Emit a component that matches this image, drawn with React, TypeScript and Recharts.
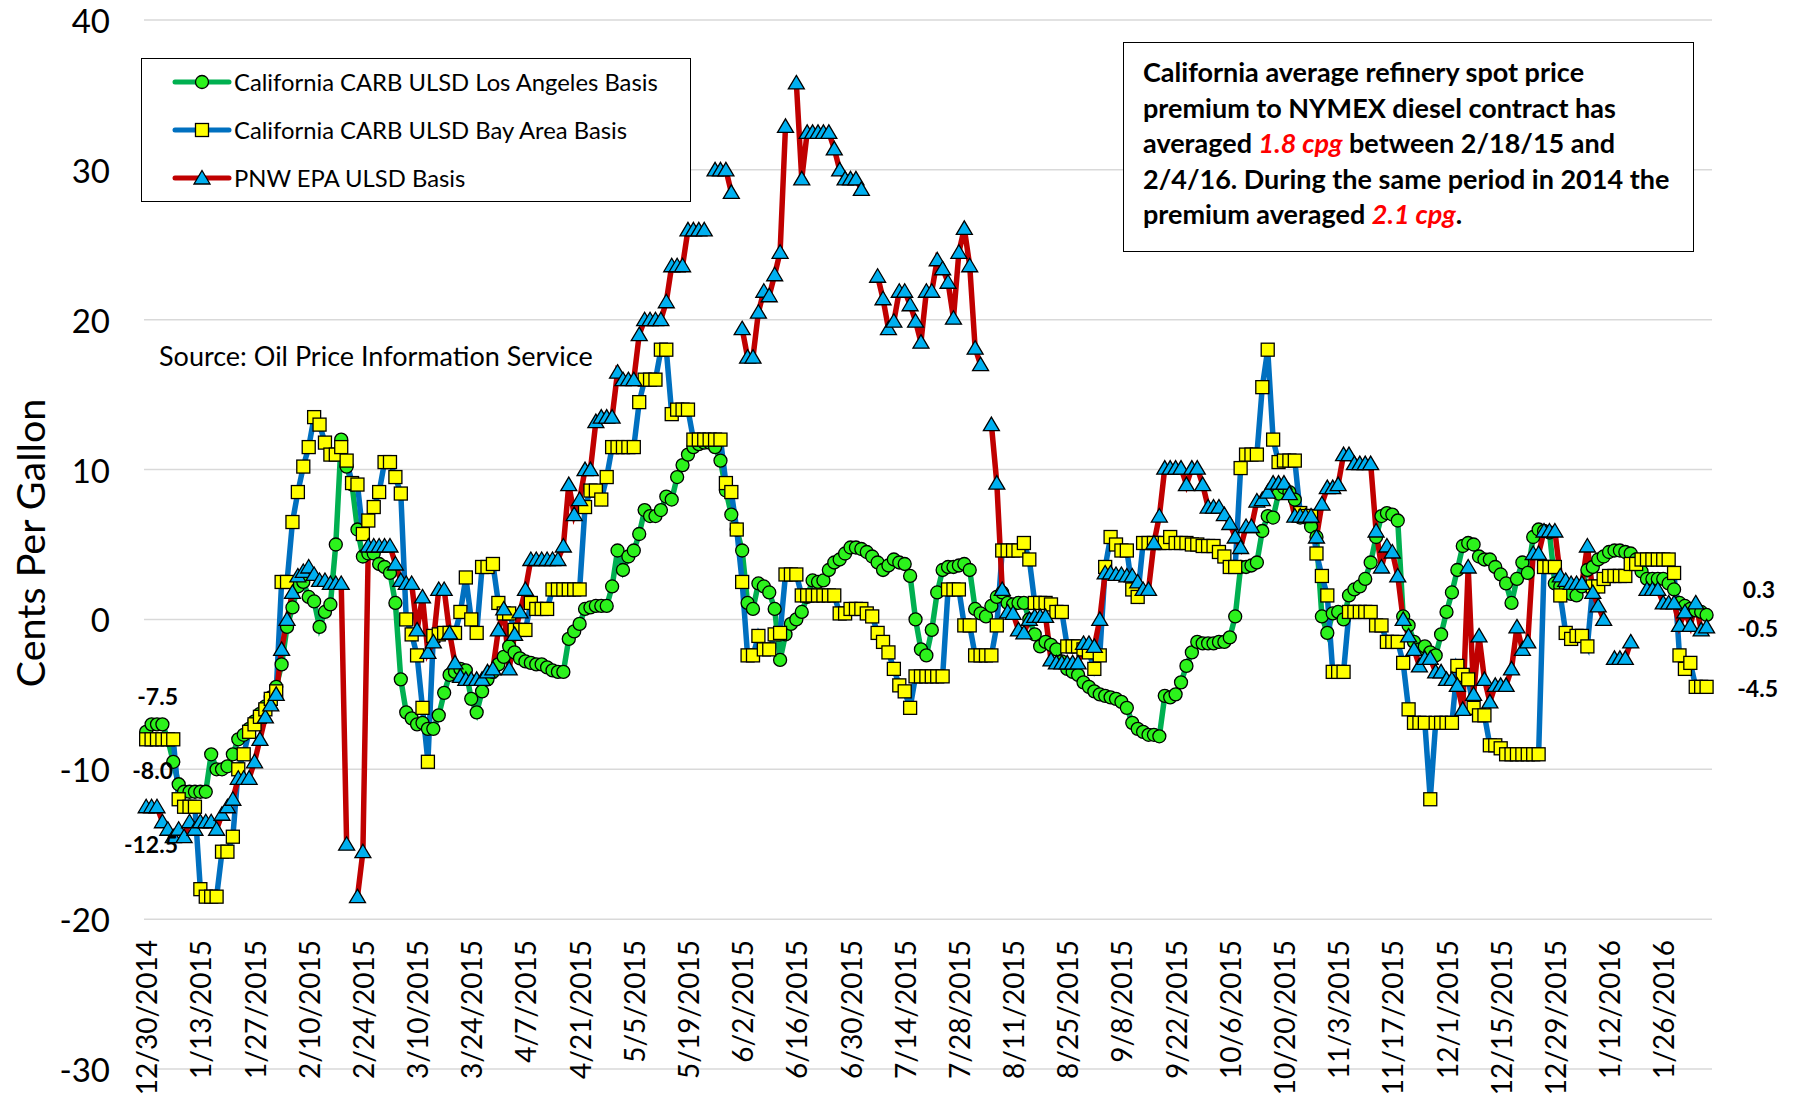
import React from 'react';
import { LineChart, Line, XAxis, YAxis, CartesianGrid } from 'recharts';

const TICK_LABELS = [
  '12/30/2014', '1/13/2015', '1/27/2015', '2/10/2015', '2/24/2015', '3/10/2015',
  '3/24/2015', '4/7/2015', '4/21/2015', '5/5/2015', '5/19/2015', '6/2/2015',
  '6/16/2015', '6/30/2015', '7/14/2015', '7/28/2015', '8/11/2015', '8/25/2015',
  '9/8/2015', '9/22/2015', '10/6/2015', '10/20/2015', '11/3/2015', '11/17/2015',
  '12/1/2015', '12/15/2015', '12/29/2015', '1/12/2016', '1/26/2016',
];

// one value per trading day, cents per gallon
const LA_BASIS: (number | null)[] = [
  -7.5, -7, -7, -7, -8, -9.5, -11, -11.5, -11.5, -11.5,
  -11.5, -11.5, -9, -10, -10, -9.8, -9, -8, -7.7, -7.3,
  -6.8, -6.3, -5.8, -5.2, -4.5, -3, -0.5, 0.8, 2.2, 2.5,
  1.5, 1.2, -0.5, 0.5, 1, 5, 12, 10.2, 9, 6,
  4.2, 4.4, 4.4, 3.7, 3.5, 3.1, 1.1, -4, -6.2, -6.6,
  -7, -6.9, -7.3, -7.3, -6.4, -4.9, -3.7, -3.5, -3.3, -3.4,
  -5.3, -6.2, -4.8, -4, -3.5, -3, -2.5, -1.8, -2.2, -2.6,
  -2.8, -2.9, -3, -3, -3.2, -3.4, -3.5, -3.5, -1.3, -0.8,
  -0.3, 0.7, 0.8, 0.9, 0.9, 0.9, 2.2, 4.6, 3.3, 4.2,
  4.6, 5.7, 7.3, 6.9, 6.9, 7.3, 8.2, 8, 9.5, 10.3,
  11, 11.5, 11.7, 11.8, 11.8, 11.5, 10.6, 8.6, 7, 6,
  4.6, 1.1, 0.7, 2.4, 2.2, 1.8, 0.7, -2.7, -1, -0.3,
  0, 0.5, 1.5, 2.6, 2.5, 2.6, 3.3, 3.8, 4, 4.4,
  4.8, 4.8, 4.7, 4.5, 4.2, 3.8, 3.3, 3.6, 4, 3.8,
  3.7, 2.9, 0, -2, -2.4, -0.7, 1.8, 3.3, 3.5, 3.5,
  3.6, 3.7, 3.3, 0.7, 0.4, 0.2, 0.9, 1.5, 1.8, 1.1,
  1, 1.1, 1.1, 0, -1, -1.8, -1.5, -1.7, -2, -2.8,
  -3.3, -3.5, -3.7, -4.2, -4.5, -4.8, -5, -5.1, -5.2, -5.3,
  -5.5, -5.9, -6.9, -7.3, -7.5, -7.7, -7.7, -7.8, -5.1, -5.2,
  -5, -4.2, -3.1, -2.2, -1.5, -1.6, -1.6, -1.6, -1.5, -1.5,
  -1.2, 0.2, 3.5, 3.5, 3.6, 3.8, 5.9, 6.9, 6.8, 8.4,
  8.8, 8.5, 8, 6.8, 6.8, 6.2, 5.5, 0.2, -0.9, 0.4,
  0.5, 0, 1.6, 2, 2.2, 2.7, 3.8, 5.5, 6.9, 7.1,
  7, 6.6, 0.2, -0.4, -1.5, -2, -1.8, -2.2, -2.4, -1,
  0.5, 1.8, 3.3, 4.9, 5.1, 5, 4.2, 4, 4, 3.5,
  3, 2.4, 1.1, 2.7, 3.8, 3.1, 5.5, 6, 5.9, 5.8,
  2.4, 2.2, 2, 1.7, 1.6, 2.2, 3.3, 3.5, 4, 4.2,
  4.5, 4.6, 4.6, 4.5, 4.4, 4, 3.2, 2.7, 2.7, 2.7,
  2.7, 2.4, 2, 1.1, 0.9, 0.7, 0.6, 0.5, 0.3,
];

const BAY_BASIS: (number | null)[] = [
  -8, -8, -8, -8, -8, -8, -12, -12.5, -12.5, -12.5,
  -18, -18.5, -18.5, -18.5, -15.5, -15.5, -14.5, -10, -9, -7.5,
  -7, -6.5, -6, -5.3, -4.8, 2.5, 2.5, 6.5, 8.5, 10.2,
  11.5, 13.5, 13, 11.8, 11, 11, 11.5, 10.6, 9.1, 9,
  5.7, 6.6, 7.5, 8.5, 10.5, 10.5, 9.5, 8.4, 0, -1,
  -2.4, -5.9, -9.5, -1.1, -1, -0.9, -0.9, -0.9, 0.5, 2.8,
  0, -0.9, 3.5, 3.5, 3.7, 1.1, 0.4, 0.4, -0.7, -0.7,
  -0.7, 1.1, 0.7, 0.7, 0.7, 2, 2, 2, 2, 2,
  2, 7.5, 8.6, 8.6, 8, 9.5, 11.5, 11.5, 11.5, 11.5,
  11.5, 14.5, 16, 16, 16, 18, 18, 13.7, 14, 14,
  14, 12, 12, 12, 12, 12, 12, 9.1, 8.5, 6,
  2.5, -2.4, -2.4, -1.1, -2, -2, -1, -0.9, 3, 3,
  3, 1.6, 1.6, 1.6, 1.6, 1.6, 1.6, 1.6, 0.4, 0.4,
  0.7, 0.7, 0.7, 0.4, 0.2, -0.9, -1.5, -2.2, -3.3, -4.4,
  -4.8, -5.9, -3.8, -3.8, -3.8, -3.8, -3.8, -3.8, 2, 2,
  2, -0.4, -0.4, -2.4, -2.4, -2.4, -2.4, -0.4, 4.6, 4.6,
  4.6, 4.6, 5.1, 4, 1.1, 1.1, 1.1, 1, 0.5, 0.5,
  -1.8, -1.8, -1.8, -2, -2.2, -3.3, -2.4, 3.5, 5.5, 5,
  4.6, 4.6, 2, 1.5, 5.1, 5.1, 5.1, 5.1, 5.1, 5.5,
  5.1, 5.1, 5.1, 5, 5, 4.9, 4.9, 4.9, 4.5, 4.2,
  3.5, 3.5, 10.1, 11, 11, 11, 15.5, 18, 12, 10.5,
  10.6, 10.6, 10.6, 7.1, 6.9, 6.9, 4.4, 2.9, 1.6, -3.5,
  -3.5, -3.5, 0.5, 0.5, 0.5, 0.5, 0.5, -0.4, -0.4, -1.5,
  -1.5, -1.5, -2.9, -6, -6.9, -6.9, -6.9, -12, -6.9, -6.9,
  -6.9, -6.9, -3.1, -3.7, -4, -5.9, -6.4, -6.4, -8.4, -8.4,
  -8.6, -9, -9, -9, -9, -9, -9, -9, 3.5, 3.5,
  3.5, 1.6, -0.9, -1.3, -1.1, -1.1, -1.8, 2.2, 2.2, 2.7,
  2.9, 2.9, 2.9, 2.9, 3.7, 3.7, 4, 4, 4, 4,
  4, 4, 3.1, -2.4, -3.3, -2.9, -4.5, -4.5, -4.5,
];

const PNW_BASIS: (number | null)[] = [
  -12.5, -12.5, -12.5, -13.5, -14, -14.5, -14, -14.5, -13.5, -14,
  -13.5, -13.5, -13.5, -14, -13, -12.5, -12, -10.6, -10.6, -10.6,
  -9.5, -8, -6.5, -5.7, -5, -2, 0, 1.8, 2.9, 3.2,
  3.5, 3, 2.6, 2.6, 2.4, 2.4, 2.4, -15, null, -18.5,
  -15.5, 4.9, 4.9, 4.9, 4.9, 4.9, 3.7, 2.6, 2.4, 2.4,
  -0.7, 1.5, -2.2, -1.5, 2, 2, -0.9, -2.9, -3.8, -4,
  -4, -4, -4, -3.5, -3.3, -0.7, 0.7, -3.3, -1, 0.5,
  2, 4, 4, 4, 4, 4, 4, 4.9, 9, 7,
  8, 10, 10, 13.2, 13.5, 13.5, 13.5, 16.5, 16, 16,
  16, 19, 20, 20, 20, 20, 21.2, 23.6, 23.6, 23.6,
  26, 26, 26, 26, null, 30, 30, 30, 28.5, null,
  19.4, 17.5, 17.5, 20.5, 21.9, 21.6, 23, 24.5, 32.9, null,
  35.8, 29.4, 32.5, 32.5, 32.5, 32.5, 32.5, 31.4, 30, 29.4,
  29.4, 29.4, 28.7, null, null, 22.9, 21.4, 19.4, 19.9, 21.9,
  21.9, 21, 19.9, 18.5, 21.9, 21.9, 24, 23.4, 22.5, 20.1,
  24.5, 26.1, 23.6, 18.1, 17, null, 13, 9.1, 2, 0.5,
  0.4, -0.7, -0.9, 0, 0.2, 0.2, 0.2, -2.7, -2.9, -2.9,
  -2.9, -2.9, -2.9, -1.6, -1.6, -1.8, 0, 3.1, 3.1, 3,
  3, 2.9, 2.9, 2.5, 2, 2, 5.1, 6.9, 10.1, 10.1,
  10.1, 10.1, 9, 10.1, 10.1, 9, 7.5, 7.5, 7.5, 7,
  6.4, 5.5, 4.8, 6.2, 6.2, 7.9, 8, 8.5, 9.1, 9.1,
  9.1, 8.4, 6.9, 6.9, 6.9, 6.9, 5.5, 7.7, 8.8, 8.8,
  9, 11, 11, 10.4, 10.4, 10.4, 10.4, 5.9, 3.5, 4.9,
  4.5, 2.9, 0, -1.1, -2, -3.1, -2.6, -2.6, -3.5, -3.5,
  -4, -4, -4.4, -6, 3.5, -5, -1.1, -4, -5.5, -4.4,
  -4.4, -4.4, -3.3, -0.5, -2, -1.5, 4.4, 4.4, 5.9, 5.9,
  5.9, 2.9, 2.6, 2.4, 2.4, 2.4, 4.9, 1.8, 0.9, 0,
  null, -2.6, -2.6, -2.6, -1.5, null, null, 2, 2, 2,
  1.1, 1.1, 1.1, -0.4, 0.5, -0.4, 1.1, -0.7, -0.5,
];

const Y_TICKS = [-30, -20, -10, 0, 10, 20, 30, 40];

const data = LA_BASIS.map((la, i) => ({
  day: i,
  la,
  bay: BAY_BASIS[i],
  pnw: PNW_BASIS[i],
}));

const FONT = 'Lato, "Open Sans", sans-serif';
const GREEN_LINE = '#00b050';
const GREEN_DOT = '#2cf21c';
const BLUE_LINE = '#0070c0';
const YELLOW = '#ffff00';
const RED_LINE = '#c00000';
const SKY = '#00b0f0';

function CircleDot(p: any) {
  if (p.value == null || p.cy == null) return <g key={`c${p.index}`} />;
  return (
    <circle key={`c${p.index}`} cx={p.cx} cy={p.cy} r={6.5}
      fill={GREEN_DOT} stroke="#000" strokeWidth={1.3} />
  );
}

function SquareDot(p: any) {
  if (p.value == null || p.cy == null) return <g key={`s${p.index}`} />;
  return (
    <rect key={`s${p.index}`} x={p.cx - 6.5} y={p.cy - 6.5} width={13} height={13}
      fill={YELLOW} stroke="#000" strokeWidth={1.3} />
  );
}

function TriangleDot(p: any) {
  if (p.value == null || p.cy == null) return <g key={`t${p.index}`} />;
  const { cx, cy } = p;
  return (
    <polygon key={`t${p.index}`}
      points={`${cx},${cy - 7.5} ${cx + 8},${cy + 6} ${cx - 8},${cy + 6}`}
      fill={SKY} stroke="#000" strokeWidth={1.3} />
  );
}

function DateTick(p: any) {
  const label = TICK_LABELS[Math.round(p.payload.value / 10)];
  const top = 940;
  return (
    <text x={p.x} y={top} transform={`rotate(-90 ${p.x} ${top})`}
      textAnchor="end" dominantBaseline="central"
      fontFamily={FONT} fontSize={28} fill="#000">
      {label}
    </text>
  );
}

function ValueTick(p: any) {
  return (
    <text x={110} y={p.y} textAnchor="end" dominantBaseline="central"
      fontFamily={FONT} fontSize={33} fill="#000">
      {p.payload.value}
    </text>
  );
}

function LegendIcon({ line, kind }: { line: string; kind: string }) {
  return (
    <svg width={60} height={20} style={{ display: 'block' }}>
      <line x1={3} y1={10} x2={57} y2={10} stroke={line} strokeWidth={5} strokeLinecap="round" />
      {kind === 'circle' && <circle cx={30} cy={10} r={6.5} fill={GREEN_DOT} stroke="#000" strokeWidth={1.3} />}
      {kind === 'square' && <rect x={23.5} y={3.5} width={13} height={13} fill={YELLOW} stroke="#000" strokeWidth={1.3} />}
      {kind === 'triangle' && <polygon points="30,2.5 38,16 22,16" fill={SKY} stroke="#000" strokeWidth={1.3} />}
    </svg>
  );
}

const LEGEND_ROWS = [
  { name: 'California CARB ULSD Los Angeles Basis', line: GREEN_LINE, kind: 'circle' },
  { name: 'California CARB ULSD Bay Area Basis', line: BLUE_LINE, kind: 'square' },
  { name: 'PNW EPA ULSD Basis', line: RED_LINE, kind: 'triangle' },
];

const red = { color: '#ff0000', fontStyle: 'italic' as const };

export default function App() {
  return (
    <div style={{ position: 'absolute', left: 0, top: 0, width: 1794, height: 1094, background: '#fff', fontFamily: FONT }}>
      <LineChart width={1794} height={1094} data={data}
        margin={{ top: 20, right: 82, bottom: 24, left: 0 }}>
        <CartesianGrid vertical={false} stroke="#d9d9d9" strokeWidth={1.5} />
        <XAxis dataKey="day" type="number" domain={[-0.4, 289]} ticks={TICK_LABELS.map((_, k) => k * 10)}
          tick={<DateTick />} tickLine={false} axisLine={false} height={1} interval={0} />
        <YAxis type="number" domain={[-30, 40]} ticks={Y_TICKS} width={144}
          tick={<ValueTick />} tickLine={false} axisLine={false} interval={0} />
        <Line type="linear" dataKey="la" stroke={GREEN_LINE} strokeWidth={5.5}
          dot={CircleDot} activeDot={false} isAnimationActive={false} />
        <Line type="linear" dataKey="bay" stroke={BLUE_LINE} strokeWidth={5.5}
          dot={SquareDot} activeDot={false} isAnimationActive={false} />
        <Line type="linear" dataKey="pnw" stroke={RED_LINE} strokeWidth={5.5}
          dot={TriangleDot} activeDot={false} isAnimationActive={false} />
      </LineChart>

      <svg width={1794} height={1094} style={{ position: 'absolute', left: 0, top: 0, pointerEvents: 'none' }}>
        <text x={29} y={543} transform="rotate(-90 29 543)" textAnchor="middle" dominantBaseline="central"
          fontFamily={FONT} fontSize={39.5} fill="#000">Cents Per Gallon</text>
        <text x={159} y={355} dominantBaseline="central" fontFamily={FONT} fontSize={27} fill="#000">
          Source: Oil Price Information Service
        </text>
        <g fontFamily={FONT} fontSize={23} fontWeight="bold" fill="#000" dominantBaseline="central">
          <text x={178} y={696} textAnchor="end">-7.5</text>
          <text x={173} y={770} textAnchor="end">-8.0</text>
          <text x={178} y={844} textAnchor="end">-12.5</text>
          <text x={1775} y={589} textAnchor="end">0.3</text>
          <text x={1778} y={628} textAnchor="end">-0.5</text>
          <text x={1778} y={688} textAnchor="end">-4.5</text>
        </g>
      </svg>

      <div style={{
        position: 'absolute', left: 141, top: 58, width: 548, height: 142,
        border: '1.5px solid #000', background: '#fff',
      }}>
        {LEGEND_ROWS.map((r, k) => (
          <div key={r.name} style={{
            position: 'absolute', left: 30, top: 23 + k * 48 - 12, height: 24,
            display: 'flex', alignItems: 'center',
          }}>
            <LegendIcon line={r.line} kind={r.kind} />
            <span style={{ fontSize: 23.8, marginLeft: 2, whiteSpace: 'nowrap', color: '#000' }}>{r.name}</span>
          </div>
        ))}
      </div>

      <div style={{
        position: 'absolute', left: 1123, top: 42, width: 571, height: 210,
        border: '1.5px solid #000', background: '#fff', boxSizing: 'border-box',
        padding: '11px 0 0 19px', fontWeight: 'bold', fontSize: 27, lineHeight: '35.5px',
        color: '#000', whiteSpace: 'nowrap',
      }}>
        <div>California average refinery spot price</div>
        <div>premium to NYMEX diesel contract has</div>
        <div>averaged <span style={red}>1.8 cpg</span> between 2/18/15 and</div>
        <div>2/4/16. During the same period in 2014 the</div>
        <div>premium averaged <span style={red}>2.1 cpg</span>.</div>
      </div>
    </div>
  );
}
